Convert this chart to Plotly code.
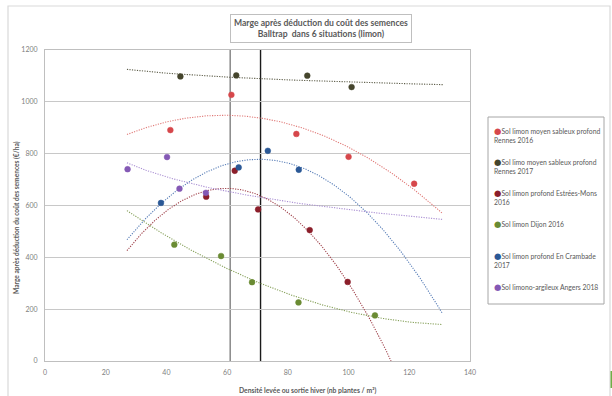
import numpy as np
import plotly.graph_objects as go

# ---------------- data ----------------
SERIES_NAMES = [
    "Sol limon moyen sableux profond<br>Rennes 2016",
    "Sol limo moyen sableux profond<br>Rennes 2017",
    "Sol limon profond Estrées-Mons<br>2016",
    "Sol limon Dijon 2016",
    "Sol limon profond En Crambade<br>2017",
    "Sol limono-argileux Angers 2018",
]
rennes16_x = [41.3, 61.4, 82.8, 100.0, 121.6]
rennes16_y = [891, 1027, 876, 788, 684]
rennes17_x = [44.6, 63.0, 86.4, 101.0]
rennes17_y = [1098, 1102, 1101, 1057]
estrees_x = [53.1, 62.5, 70.2, 87.2, 99.7]
estrees_y = [634, 734, 585, 505, 305]
dijon_x = [42.6, 58.0, 68.2, 83.5, 108.7]
dijon_y = [449, 405, 304, 226, 176]
crambade_x = [38.2, 63.8, 73.4, 83.6]
crambade_y = [610, 747, 811, 738]
angers_x = [27.2, 40.2, 44.3, 53.0]
angers_y = [740, 787, 665, 649]

TREND_TYPES = ["poly2", "log", "poly2", "poly2", "poly2", "log"]
TREND_X = [27, 131]
VLINES = [61, 71]
X_TICKS = [0, 20, 40, 60, 80, 100, 120, 140]
Y_TICKS = [0, 200, 400, 600, 800, 1000, 1200]

COLORS = ["#D6474B", "#45452C", "#8B1E2A", "#6A8B33", "#2B5896", "#8459B5"]
TREND_COLORS = ["#E07A78", "#5E5E4A", "#A0434C", "#86A05A", "#5A7FB8", "#A98ED2"]
VLINE_COLORS = ["#808080", "#1a1a1a"]

series_x = [rennes16_x, rennes17_x, estrees_x, dijon_x, crambade_x, angers_x]
series_y = [rennes16_y, rennes17_y, estrees_y, dijon_y, crambade_y, angers_y]

# ---------------- layout geometry (pixels) ----------------
W, H = 612, 396
L, R, T, B = 45, 470, 50, 361
PW, PH = R - L, B - T


def px_x(p):
    return (p - L) / PW


def px_y(p):
    return (B - p) / PH


fig = go.Figure()

# trendlines
xs = np.linspace(TREND_X[0], TREND_X[1], 300)
for i, (x, y) in enumerate(zip(series_x, series_y)):
    x = np.array(x, float)
    y = np.array(y, float)
    if TREND_TYPES[i] == "poly2":
        c = np.polyfit(x, y, 2)
        ys = np.polyval(c, xs)
    else:
        c = np.polyfit(np.log(x), y, 1)
        ys = np.polyval(c, np.log(xs))
    fig.add_trace(go.Scatter(
        x=xs, y=ys, mode="lines", showlegend=False, hoverinfo="skip",
        line=dict(color=TREND_COLORS[i], width=1.1, dash="1.2px,1.3px"),
    ))

# data points
for i, (x, y) in enumerate(zip(series_x, series_y)):
    fig.add_trace(go.Scatter(
        x=x, y=y, mode="markers", name=SERIES_NAMES[i], showlegend=False,
        marker=dict(color=COLORS[i], size=5.8, line=dict(color=COLORS[i], width=0.5)),
    ))

shapes = []
# vertical reference lines
for v, col in zip(VLINES, VLINE_COLORS):
    shapes.append(dict(type="line", xref="x", yref="paper", x0=v, x1=v, y0=0, y1=1,
                       line=dict(color=col, width=1.4), layer="below"))
# outer chart frame
shapes.append(dict(type="rect", xref="paper", yref="paper",
                   x0=px_x(8), x1=px_x(610), y0=px_y(402), y1=px_y(6),
                   line=dict(color="#d9d9d9", width=1.2), layer="below"))
# legend box
shapes.append(dict(type="rect", xref="paper", yref="paper",
                   x0=px_x(488), x1=px_x(604), y0=px_y(304), y1=px_y(117),
                   line=dict(color="#a6a6a6", width=1)))
# small green edge mark
shapes.append(dict(type="rect", xref="paper", yref="paper",
                   x0=px_x(610.5), x1=px_x(613), y0=px_y(388), y1=px_y(371),
                   line=dict(width=0), fillcolor="#70AD47"))

annotations = []
# title box
annotations.append(dict(
    xref="paper", yref="paper", x=px_x(321), y=px_y(28), xanchor="center", yanchor="middle",
    text="<b>Marge après déduction du coût des semences</b><br><b>Balltrap  dans 6 situations (limon)</b>",
    showarrow=False, font=dict(family="Lato", size=8.6, color="#595959"),
    bordercolor="#bfbfbf", borderwidth=1, borderpad=3, bgcolor="white"))
# axis titles
annotations.append(dict(
    xref="paper", yref="paper", x=px_x(17), y=px_y(218), xanchor="center", yanchor="middle",
    textangle=-90, showarrow=False,
    text="<b>Marge après déduction du coût des semences (€/ha)</b>",
    font=dict(family="Lato", size=6.6, color="#595959")))
annotations.append(dict(
    xref="paper", yref="paper", x=px_x(307), y=px_y(390), xanchor="center", yanchor="middle",
    showarrow=False,
    text="<b>Densité levée ou sortie hiver (nb plantes / m²)</b>",
    font=dict(family="Lato", size=6.8, color="#595959")))
# legend entries
for i, name in enumerate(SERIES_NAMES):
    annotations.append(dict(
        xref="paper", yref="paper", x=px_x(492), y=px_y(123.5 + i * 31.3),
        xanchor="left", yanchor="top", align="left", showarrow=False,
        text=f'<span style="color:{COLORS[i]};font-family:DejaVu Sans;font-size:8.5px">●</span>' + name,
        font=dict(family="Lato", size=6.8, color="#595959")))

fig.update_layout(
    width=W, height=H,
    margin=dict(l=L, r=W - R, t=T, b=H - B, pad=0),
    paper_bgcolor="white", plot_bgcolor="white",
    showlegend=False,
    xaxis=dict(range=[0, 140], tickvals=X_TICKS, showgrid=False, zeroline=False,
               showline=True, linecolor="#bfbfbf", linewidth=1, mirror=True,
               ticks="", ticklabelstandoff=5,
               tickfont=dict(family="Lato", size=7, color="#808080")),
    yaxis=dict(range=[0, 1200], tickvals=Y_TICKS, showgrid=True, gridcolor="#c8c8c8",
               gridwidth=1.2, zeroline=False, showline=True, linecolor="#bfbfbf",
               linewidth=1, mirror=True, ticks="", ticklabelstandoff=5,
               tickfont=dict(family="Lato", size=7, color="#808080")),
    shapes=shapes, annotations=annotations,
)

fig.write_html("out.html")
